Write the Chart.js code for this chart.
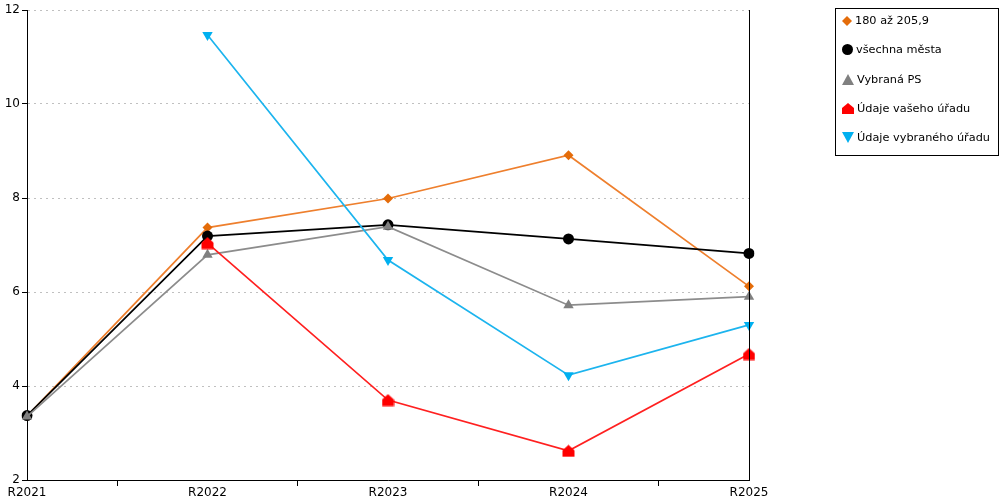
<!DOCTYPE html>
<html>
<head>
<meta charset="utf-8">
<script src="https://cdn.jsdelivr.net/npm/chart.js@4"></script>
<style>
  body { margin: 0; background: #fff; font-family: "DejaVu Sans", Verdana, sans-serif; }
  #wrap { position: relative; width: 1000px; height: 500px; }
  #legend { position: absolute; left: 835px; top: 8px; width: 162px; height: 146px;
            border: 1px solid #000; font-size: 11.3px; color: #000; }
  .item { position: absolute; left: 6px; height: 14px; line-height: 14px; white-space: nowrap; }
  .item svg { vertical-align: -2px; margin-right: 3px; }
</style>
</head>
<body>
<div id="wrap">
  <canvas id="myChart" width="1000" height="500"></canvas>
  <div id="legend"></div>
</div>
<script>
const labels = ['R2021', 'R2022', 'R2023', 'R2024', 'R2025'];

const skupina = [3.36, 7.37, 7.99, 8.91, 6.12];
const vsechnaMesta = [3.37, 7.19, 7.43, 7.13, 6.82];
const vybranaPS = [3.35, 6.79, 7.39, 5.72, 5.90];
const vasUrad = [null, 7.04, 3.70, 2.62, 4.68];
const vybranyUrad = [null, 11.47, 6.68, 4.23, 5.30];

// house shaped marker for "Údaje vašeho úřadu"
function houseIcon(color) {
  const c = document.createElement('canvas');
  c.width = 13; c.height = 13;
  const g = c.getContext('2d');
  g.fillStyle = color;
  g.beginPath();
  g.moveTo(6.5, 0.5);
  g.lineTo(12.5, 6);
  g.lineTo(12.5, 12.5);
  g.lineTo(0.5, 12.5);
  g.lineTo(0.5, 6);
  g.closePath();
  g.fill();
  return c;
}

const datasets = [
  { label: '180 až 205,9', data: skupina, borderColor: '#EE7F2D', backgroundColor: '#E46C0A',
    pointStyle: 'rectRot', pointRadius: 5, icon: 'diamond' },
  { label: 'všechna města', data: vsechnaMesta, borderColor: '#000000', backgroundColor: '#000000',
    pointStyle: 'circle', pointRadius: 5.5, icon: 'circle' },
  { label: 'Vybraná PS', data: vybranaPS, borderColor: '#8C8C8C', backgroundColor: '#808080',
    pointStyle: 'triangle', pointRadius: 6, icon: 'up' },
  { label: 'Údaje vašeho úřadu', data: vasUrad, borderColor: '#FF2020', backgroundColor: '#FF0000',
    pointStyle: houseIcon('#FF0000'), pointRadius: 6, icon: 'house' },
  { label: 'Údaje vybraného úřadu', data: vybranyUrad, borderColor: '#1CB4EE', backgroundColor: '#00B0F0',
    pointStyle: 'triangle', rotation: 180, pointRadius: 6, icon: 'down' }
];

datasets.forEach((d, i) => {
  d.type = 'line';
  d.order = -i; // later series drawn on top
  d.borderWidth = 1.7;
  d.pointBorderWidth = 0;
  d.pointBackgroundColor = d.backgroundColor;
  d.pointBorderColor = d.backgroundColor;
  d.tension = 0;
  d.spanGaps = false;
});

const rightBorder = {
  id: 'rightBorder',
  afterDraw(chart) {
    const a = chart.chartArea, c = chart.ctx;
    c.save();
    c.strokeStyle = '#000';
    c.lineWidth = 1;
    c.beginPath();
    c.moveTo(Math.round(a.right) + 0.5, a.top);
    c.lineTo(Math.round(a.right) + 0.5, a.bottom);
    c.stroke();
    c.restore();
  }
};

Chart.defaults.font.family = '"DejaVu Sans", Verdana, sans-serif';
Chart.defaults.font.size = 12;
Chart.defaults.color = '#000';

var ctx = document.getElementById('myChart').getContext('2d');
var myChart = new Chart(ctx, {
  data: { labels: labels, datasets: datasets },
  options: {
    responsive: false,
    animation: false,
    layout: { padding: { top: 10, right: 251, left: 0, bottom: 0 } },
    plugins: { legend: { display: false }, tooltip: { enabled: false } },
    scales: {
      x: {
        offset: false,
        grid: { offset: true, drawOnChartArea: false, drawTicks: true, tickLength: 6, color: '#000', tickColor: '#000' },
        border: { color: '#000', width: 1 },
        ticks: { padding: 0, maxRotation: 0, autoSkip: false },
        afterFit(s) { s.height = 20; }
      },
      y: {
        min: 2, max: 12,
        grid: { color: '#c0c0c0', tickColor: '#000', tickLength: 5, drawTicks: true },
        border: { color: '#000', width: 1, dash: [2, 4] },
        ticks: { stepSize: 2, padding: 2 },
        afterFit(s) { s.width = 27; }
      }
    }
  },
  plugins: [rightBorder]
});

// legend
const icons = {
  diamond: c => `<svg width="10" height="10"><polygon points="5,0 10,5 5,10 0,5" fill="${c}"/></svg>`,
  circle: c => `<svg width="11" height="11"><circle cx="5.5" cy="5.5" r="5.5" fill="${c}"/></svg>`,
  up: c => `<svg width="12" height="11"><polygon points="6,0 12,11 0,11" fill="${c}"/></svg>`,
  house: c => `<svg width="12" height="11"><polygon points="6,0 12,5 12,11 0,11 0,5" fill="${c}"/></svg>`,
  down: c => `<svg width="12" height="11"><polygon points="0,0 12,0 6,11" fill="${c}"/></svg>`
};
const legendTops = [5, 34, 64, 93, 122];
const leg = document.getElementById('legend');
datasets.forEach((d, i) => {
  const el = document.createElement('div');
  el.className = 'item';
  el.style.top = legendTops[i] + 'px';
  el.innerHTML = icons[d.icon](d.backgroundColor) + d.label;
  leg.appendChild(el);
});
</script>
</body>
</html>
